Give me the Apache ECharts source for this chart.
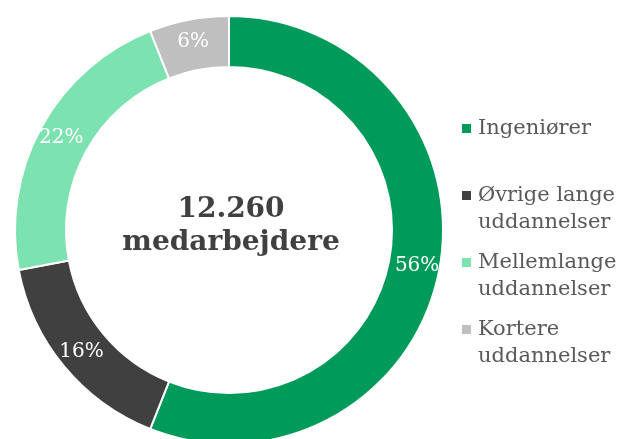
<!DOCTYPE html>
<html>
<head>
<meta charset="utf-8">
<script src="https://cdn.jsdelivr.net/npm/echarts@6/dist/echarts.min.js"></script>
<style>
  html, body { margin: 0; padding: 0; background: #fff; }
  #chart { width: 619px; height: 439px; }
</style>
</head>
<body>
<div id="chart"></div>
<script>
// kategorier og andele (%)
const categories = ["Ingeniører", "Øvrige lange uddannelser", "Mellemlange uddannelser", "Kortere uddannelser"];
const shares = [56, 16, 22, 6];
const legendLines = ["Ingeniører\n ", "Øvrige lange\nuddannelser", "Mellemlange\nuddannelser", "Kortere\nuddannelser"];
const colors = ["#009B5A", "#404040", "#7BE2B0", "#BFBFBF"];
const centerText = "12.260\nmedarbejdere";

const serif = "'DejaVu Serif', Georgia, serif";

// kvadrat øverst i en højere boks, så ikonet flugter med første linje
const iconPath = "path://M0,0L9,0L9,9L0,9Z M11,36L11,36";

const chart = echarts.init(document.getElementById("chart"));

const option = {
  animation: false,
  color: colors,
  legend: {
    orient: "vertical",
    left: 462,
    top: 115,
    padding: 0,
    itemGap: 13,
    itemWidth: 11,
    itemHeight: 36,
    icon: iconPath,
    itemStyle: { borderWidth: 0 },
    data: categories,
    formatter: (name) => legendLines[categories.indexOf(name)],
    textStyle: {
      fontFamily: serif,
      fontSize: 21,
      lineHeight: 27,
      color: "#595959",
    },
  },
  graphic: [
    {
      type: "text",
      x: 231,
      y: 226,
      style: {
        text: centerText,
        fontFamily: serif,
        fontWeight: "bold",
        fontSize: 28,
        lineHeight: 33,
        fill: "#404040",
        align: "center",
        verticalAlign: "middle",
      },
    },
  ],
  series: [
    {
      type: "pie",
      center: [229, 230],
      radius: [163, 214],
      startAngle: 90,
      clockwise: true,
      avoidLabelOverlap: false,
      itemStyle: {
        borderColor: "#fff",
        borderWidth: 2,
      },
      label: {
        show: true,
        position: "inside",
        formatter: "{c}%",
        color: "#fff",
        fontFamily: serif,
        fontSize: 20,
        textBorderWidth: 0,
      },
      labelLine: { show: false },
      emphasis: { disabled: true },
      data: categories.map((name, i) => ({ name, value: shares[i] })),
    },
  ],
};

chart.setOption(option);
window.addEventListener("resize", () => chart.resize());
</script>
</body>
</html>
